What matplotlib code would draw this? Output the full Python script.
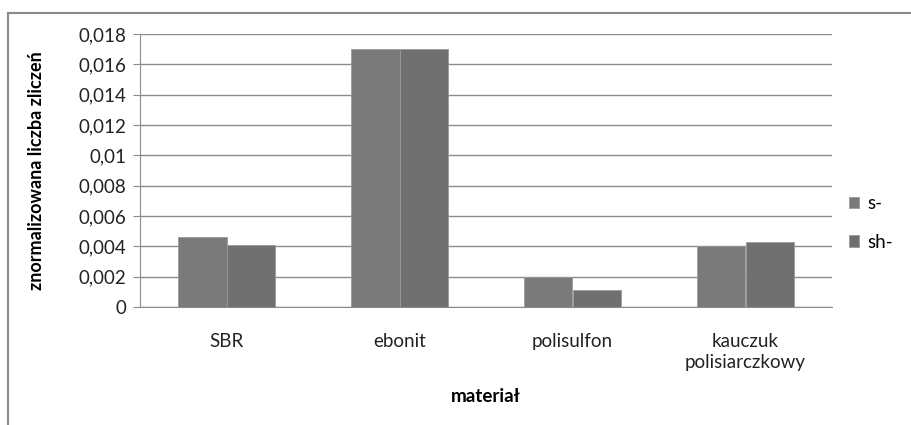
import numpy as np
import matplotlib
matplotlib.use("Agg")
import matplotlib.pyplot as plt
from matplotlib.lines import Line2D
from matplotlib.ticker import FixedLocator

categories = ["SBR", "ebonit", "polisulfon", "kauczuk\npolisiarczkowy"]
s_vals = [0.0046, 0.0170, 0.0020, 0.0040]
sh_vals = [0.0041, 0.0170, 0.0011, 0.0043]
yticks = [0, 0.002, 0.004, 0.006, 0.008, 0.01, 0.012, 0.014, 0.016, 0.018]
ytick_labels = ["0", "0,002", "0,004", "0,006", "0,008", "0,01", "0,012", "0,014", "0,016", "0,018"]

plt.rcParams['font.family'] = ['Lato', 'DejaVu Sans']
fs = 13.5

fig = plt.figure(figsize=(9.11, 4.25), dpi=100)
fig.patch.set_facecolor("white")
ax = fig.add_axes([140/911, 1-307/425, (832-140)/911, (307-34)/425])

x = np.arange(len(categories))
w = 0.283
ax.bar(x - w/2, s_vals, w, color="#7a7a7a", edgecolor="#9a9a9a", linewidth=0.6, label="s-", zorder=3)
ax.bar(x + w/2, sh_vals, w, color="#707070", edgecolor="#9a9a9a", linewidth=0.6, label="sh-", zorder=3)

ax.set_xlim(-0.5, len(categories) - 0.5)
ax.set_ylim(0, 0.018)
ax.yaxis.set_major_locator(FixedLocator(yticks))
ax.set_yticklabels(ytick_labels, fontsize=fs, color="#222222")
ax.set_xticks(x)
ax.set_xticklabels(categories, fontsize=fs, color="#222222", linespacing=1.25)
ax.tick_params(axis="x", length=0, pad=19)
ax.tick_params(axis="y", length=5, color="#8c8c8c", pad=5)
ax.grid(axis="y", color="#8c8c8c", linewidth=1.0, zorder=0)
for side in ["top", "right"]:
    ax.spines[side].set_visible(False)
ax.spines["left"].set_color("#8c8c8c")
ax.spines["bottom"].set_color("#8c8c8c")

ax.set_ylabel("znormalizowana liczba zliczeń", fontsize=13, fontweight="bold")
ax.yaxis.set_label_coords((45-140)/692, 0.5)
fig.text(486/911, 1-397/425, "materiał", fontsize=fs, fontweight="bold", ha="center", va="center")

ax.legend(loc="center left", bbox_to_anchor=(832/911, 1-223/425), bbox_transform=fig.transFigure,
          frameon=False, fontsize=fs, handlelength=0.55, handleheight=0.55, handletextpad=0.45,
          labelspacing=1.15)

# outer chart frame (clipped at the right and bottom)
fig.add_artist(Line2D([8/911, 1.0], [1-13/425, 1-13/425], transform=fig.transFigure, color="#8a8a8a", linewidth=1.5))
fig.add_artist(Line2D([8/911, 8/911], [0.0, 1-13/425], transform=fig.transFigure, color="#8a8a8a", linewidth=1.5))

fig.savefig("out.png", dpi=100)
